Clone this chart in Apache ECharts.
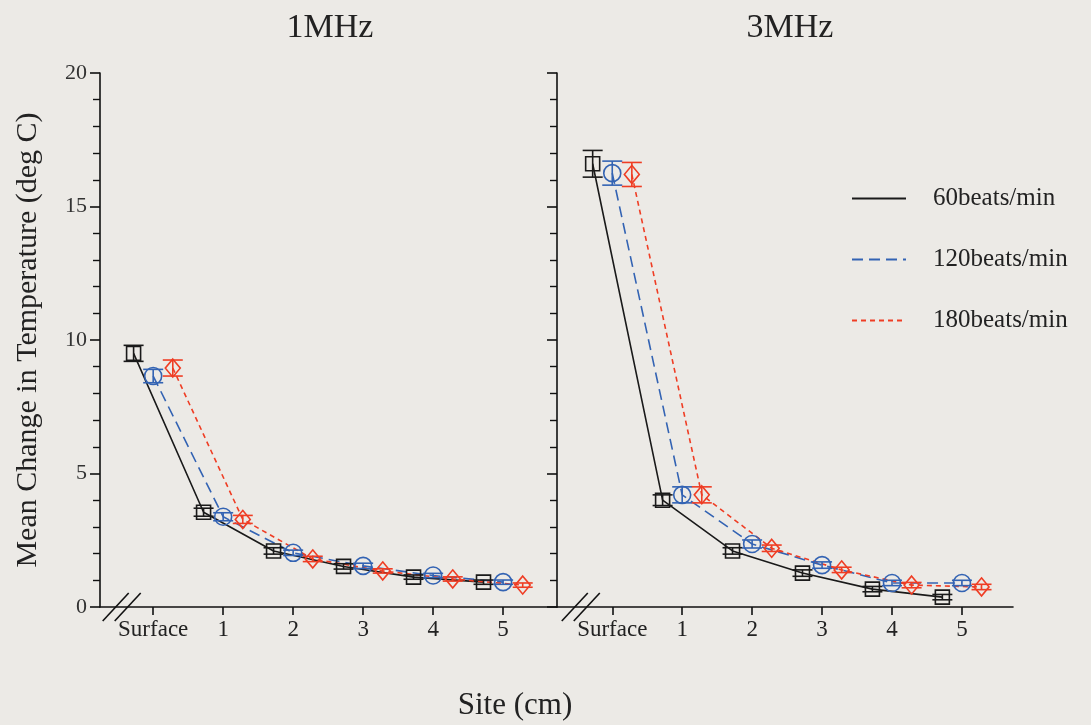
<!DOCTYPE html>
<html>
<head>
<meta charset="utf-8">
<script src="https://cdn.jsdelivr.net/npm/echarts@6/dist/echarts.min.js"></script>
<style>
html,body{margin:0;padding:0;background:#eceae6;}
#chart{width:1091px;height:725px;}
</style>
</head>
<body>
<div id="chart"></div>
<script>
// ---- data ----
const sites = [0, 1, 2, 3, 4, 5];
const siteLabels = ['Surface', '1', '2', '3', '4', '5'];
const seriesNames = ['60beats/min', '120beats/min', '180beats/min'];
const panelTitles = ['1MHz', '3MHz'];

// 1 MHz
const mhz1_60 = [9.5, 3.55, 2.1, 1.52, 1.12, 0.93];
const mhz1_120 = [8.65, 3.38, 2.03, 1.54, 1.18, 0.93];
const mhz1_180 = [8.95, 3.28, 1.8, 1.35, 1.05, 0.82];
const mhz1_60_err = [0.3, 0.15, 0.12, 0.1, 0.08, 0.08];
const mhz1_120_err = [0.25, 0.15, 0.1, 0.1, 0.08, 0.08];
const mhz1_180_err = [0.3, 0.15, 0.1, 0.08, 0.08, 0.08];

// 3 MHz
const mhz3_60 = [16.6, 4.0, 2.1, 1.27, 0.67, 0.37];
const mhz3_120 = [16.25, 4.2, 2.36, 1.57, 0.9, 0.9];
const mhz3_180 = [16.2, 4.2, 2.2, 1.39, 0.82, 0.75];
const mhz3_60_err = [0.5, 0.2, 0.12, 0.12, 0.1, 0.1];
const mhz3_120_err = [0.45, 0.3, 0.15, 0.12, 0.1, 0.1];
const mhz3_180_err = [0.45, 0.3, 0.12, 0.1, 0.1, 0.1];

// ---- styling ----
const FONT = '"Liberation Serif", "DejaVu Serif", serif';
const colors = ['#1a1a1a', '#3363b3', '#ef3d24'];
const lineTypes = ['solid', [11, 6], [5, 4]];
const symbols = ['rect', 'circle', 'diamond'];
const symbolSizes = [14, 17, [15, 18]];
const offsets = [-0.28, 0, 0.28];

const panels = [
  [mhz1_60, mhz1_120, mhz1_180],
  [mhz3_60, mhz3_120, mhz3_180]
];
const panelErrs = [
  [mhz1_60_err, mhz1_120_err, mhz1_180_err],
  [mhz3_60_err, mhz3_120_err, mhz3_180_err]
];

const chart = echarts.init(document.getElementById('chart'));

const grids = [
  {left: 100, top: 73, width: 457, height: 534},
  {left: 557, top: 73, width: 456, height: 534}
];

function xAxisFor(i) {
  return {
    type: 'value', gridIndex: i,
    min: i === 0 ? -0.76 : -0.79, max: i === 0 ? 5.77 : 5.73,
    axisLine: {show: true, onZero: false, lineStyle: {color: '#111', width: 1.6}},
    axisTick: {show: true, customValues: sites, length: 8, lineStyle: {color: '#111', width: 1.6}},
    axisLabel: {show: true, customValues: sites, margin: 11, color: '#222', fontFamily: FONT, fontSize: 23,
      formatter: v => siteLabels[sites.indexOf(Math.round(v))]},
    splitLine: {show: false}
  };
}
function yAxisFor(i) {
  return {
    type: 'value', gridIndex: i, min: 0, max: 20, interval: 5,
    name: i === 0 ? 'Mean Change in Temperature (deg C)' : '',
    nameLocation: 'middle', nameGap: 57, nameRotate: 90,
    nameTextStyle: {fontFamily: FONT, fontSize: 30, color: '#222'},
    axisLine: {show: true, onZero: false, lineStyle: {color: '#111', width: 1.6}},
    axisTick: {show: true, length: 10, lineStyle: {color: '#111', width: 1.6}},
    minorTick: {show: true, splitNumber: 5, length: 7, lineStyle: {color: '#111', width: 1.4}},
    axisLabel: {show: i === 0, margin: 13, color: '#333', fontFamily: FONT, fontSize: 22},
    splitLine: {show: false}, minorSplitLine: {show: false}
  };
}

const series = [];
panels.forEach((pdata, p) => {
  pdata.forEach((vals, s) => {
    const pts = sites.map((x, k) => [x + offsets[s], vals[k]]);
    series.push({
      name: seriesNames[s] + ' ' + panelTitles[p],
      type: 'line', xAxisIndex: p, yAxisIndex: p,
      data: pts,
      symbol: symbols[s], symbolSize: symbolSizes[s],
      showSymbol: true,
      lineStyle: {color: colors[s], width: 1.6, type: lineTypes[s]},
      itemStyle: {color: 'rgba(0,0,0,0)', borderColor: colors[s], borderWidth: 1.6},
      emphasis: {disabled: true},
      z: 3, animation: false
    });
    const errs = panelErrs[p][s];
    series.push({
      name: seriesNames[s] + ' ' + panelTitles[p] + ' err',
      type: 'custom', xAxisIndex: p, yAxisIndex: p,
      data: sites.map((x, k) => [x + offsets[s], vals[k] - errs[k], vals[k] + errs[k]]),
      renderItem: function (params, api) {
        const lo = api.coord([api.value(0), api.value(1)]);
        const hi = api.coord([api.value(0), api.value(2)]);
        const hw = 10;
        const st = {stroke: colors[s], lineWidth: 1.6, fill: null};
        return {type: 'group', children: [
          {type: 'line', shape: {x1: lo[0], y1: lo[1], x2: hi[0], y2: hi[1]}, style: st},
          {type: 'line', shape: {x1: lo[0] - hw, y1: lo[1], x2: lo[0] + hw, y2: lo[1]}, style: st},
          {type: 'line', shape: {x1: hi[0] - hw, y1: hi[1], x2: hi[0] + hw, y2: hi[1]}, style: st}
        ]};
      },
      z: 4, animation: false, silent: true
    });
  });
});
// legend-only series (line only, invisible symbol)
seriesNames.forEach((n, s) => {
  series.push({
    name: n, type: 'line', xAxisIndex: 1, yAxisIndex: 1, data: [],
    symbol: 'none',
    itemStyle: {color: 'rgba(0,0,0,0)', borderColor: 'rgba(0,0,0,0)', borderWidth: 0},
    lineStyle: {color: colors[s], width: 1.6, type: lineTypes[s]}
  });
});

chart.setOption({
  backgroundColor: '#eceae6',
  animation: false,
  title: [
    {text: panelTitles[0], left: 325, top: 6, textAlign: 'center',
      textStyle: {fontFamily: FONT, fontSize: 34, fontWeight: 'normal', color: '#222'}},
    {text: panelTitles[1], left: 785, top: 6, textAlign: 'center',
      textStyle: {fontFamily: FONT, fontSize: 34, fontWeight: 'normal', color: '#222'}},
    {text: 'Site (cm)', left: 510, top: 685, textAlign: 'center',
      textStyle: {fontFamily: FONT, fontSize: 31, fontWeight: 'normal', color: '#222'}}
  ],
  legend: {
    data: seriesNames, orient: 'vertical', left: 846, top: 181,
    itemWidth: 54, itemHeight: 24, itemGap: 36,
    itemStyle: {color: 'rgba(0,0,0,0)', borderWidth: 0, opacity: 0},
    textStyle: {fontFamily: FONT, fontSize: 25, color: '#222', padding: [0, 0, 0, 22]}
  },
  grid: grids,
  xAxis: [xAxisFor(0), xAxisFor(1)],
  yAxis: [yAxisFor(0), yAxisFor(1)],
  series: series
});

// axis break marks "//" placed at data positions
function breakMarks() {
  const g = [];
  [0, 1].forEach(p => {
    const c = chart.convertToPixel({xAxisIndex: p, yAxisIndex: p}, [-0.45, 0]);
    [-6, 6].forEach(dx => {
      g.push({type: 'line', shape: {x1: c[0] + dx - 13, y1: c[1] + 14, x2: c[0] + dx + 13, y2: c[1] - 14},
        style: {stroke: '#111', lineWidth: 1.6}, z: 10});
    });
  });
  chart.setOption({graphic: g});
}
breakMarks();
</script>
</body>
</html>
